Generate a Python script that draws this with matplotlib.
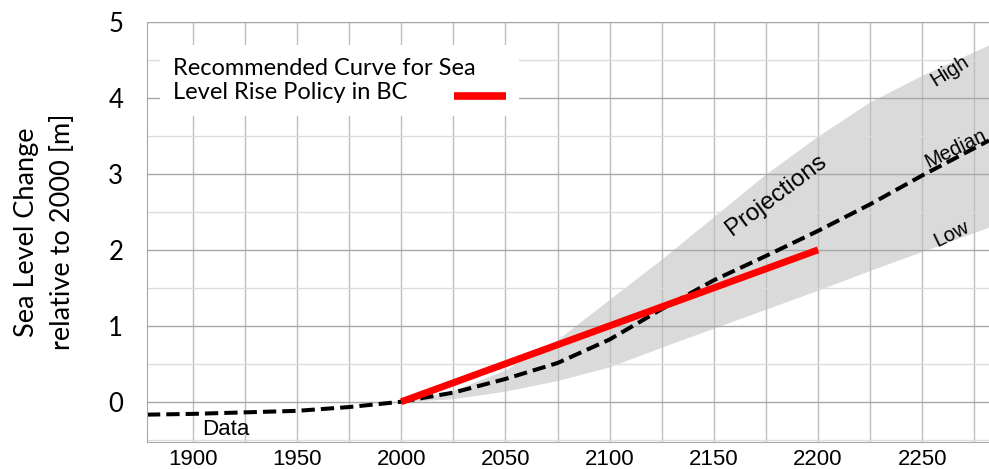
import numpy as np
import matplotlib.pyplot as plt
from matplotlib.ticker import MultipleLocator

# observed record (dashed, left of 2000)
data_years = [1878, 1900, 1925, 1950, 1975, 2000]
data_vals = [-0.17, -0.16, -0.14, -0.12, -0.07, 0.0]

# projections after 2000
proj_years = [2000, 2025, 2050, 2075, 2100, 2125, 2150, 2175, 2200, 2225, 2250, 2282]
median_vals = [0.0, 0.12, 0.30, 0.51, 0.82, 1.22, 1.60, 1.92, 2.25, 2.60, 2.98, 3.44]
high_vals = [0.0, 0.15, 0.42, 0.82, 1.35, 1.88, 2.44, 3.00, 3.50, 3.95, 4.30, 4.70]
low_vals = [0.0, 0.04, 0.14, 0.28, 0.46, 0.72, 0.97, 1.22, 1.47, 1.73, 1.98, 2.30]

# recommended policy curve
policy_years = [2000, 2200]
policy_vals = [0.0, 2.0]

x_ticks = [1900, 1950, 2000, 2050, 2100, 2150, 2200, 2250]
y_ticks = [0, 1, 2, 3, 4, 5]

ARIAL = "Liberation Sans"
CALIBRI = "Lato"


def main():
    fig = plt.figure(figsize=(9.89, 4.69), dpi=100)
    ax = fig.add_axes([0.1486, 0.0576, 0.8514, 0.8955])

    ax.set_xlim(1878, 2282)
    ax.set_ylim(-0.53, 5)

    # band and lines
    ax.fill_between(proj_years, low_vals, high_vals, color="#dadada",
                    linewidth=0, zorder=0.3)
    ax.plot(data_years, data_vals, color="black", linewidth=2.9,
            dashes=(3.3, 1.5), zorder=2)
    ax.plot(proj_years, median_vals, color="black", linewidth=2.9,
            dashes=(3.3, 1.5), zorder=2)
    ax.plot(policy_years, policy_vals, color="#ff0000", linewidth=5,
            solid_capstyle="butt", zorder=3,
            label="Recommended Curve for Sea\nLevel Rise Policy in BC")

    # grid
    ax.set_axisbelow(True)
    ax.set_xticks(x_ticks)
    ax.xaxis.set_minor_locator(MultipleLocator(25))
    ax.set_yticks(y_ticks)
    ax.yaxis.set_minor_locator(MultipleLocator(0.5))
    ax.grid(True, axis="x", which="both", color="#bdbdbd", linewidth=1.0)
    ax.grid(True, axis="y", which="major", color="#a8a8a8", linewidth=1.0)
    ax.grid(True, axis="y", which="minor", color="#dcdcdc", linewidth=1.0)

    ax.tick_params(which="both", length=0)
    ax.tick_params(axis="x", pad=5)
    ax.tick_params(axis="y", pad=17)
    for lab in ax.get_xticklabels():
        lab.set_fontfamily(ARIAL)
        lab.set_fontsize(16)
    for lab in ax.get_yticklabels():
        lab.set_fontfamily(CALIBRI)
        lab.set_fontsize(18.5)

    for side in ["left", "bottom", "top"]:
        ax.spines[side].set_color("#a8a8a8")
    ax.spines["right"].set_visible(False)

    ax.set_ylabel("Sea Level Change\nrelative to 2000 [m]", fontfamily=CALIBRI,
                  fontsize=19.5, linespacing=1.55)
    ax.yaxis.set_label_coords(-0.086, 0.50)

    # annotations
    ax.text(1916, -0.37, "Data", fontfamily=ARIAL, fontsize=16,
            ha="center", va="center", zorder=4)
    ax.text(2180, 2.72, "Projections", fontfamily=ARIAL, fontsize=17.5,
            rotation=37, rotation_mode="anchor", ha="center", va="center", zorder=4)
    ax.text(2263, 4.36, "High", fontfamily=ARIAL, fontsize=14.5,
            rotation=32, rotation_mode="anchor", ha="center", va="center", zorder=4)
    ax.text(2266, 3.34, "Median", fontfamily=ARIAL, fontsize=14.5,
            rotation=26, rotation_mode="anchor", ha="center", va="center", zorder=4)
    ax.text(2264, 2.21, "Low", fontfamily=ARIAL, fontsize=14.5,
            rotation=26, rotation_mode="anchor", ha="center", va="center", zorder=4)

    leg = ax.legend(loc="upper left", bbox_to_anchor=(0.0155, 0.945),
                    borderaxespad=0, markerfirst=False, frameon=True,
                    fancybox=False, framealpha=1, edgecolor="none",
                    prop={"family": CALIBRI, "size": 17},
                    handlelength=2.2, handletextpad=-0.92, borderpad=0.55)
    leg.get_frame().set_linewidth(0)
    leg.set_zorder(5)
    # the key sits beside the second text line
    key = leg.get_lines()[0]
    key.set_ydata(np.asarray(key.get_ydata()) - 11)
    key.set_linewidth(5.5)

    fig.savefig("out.png", dpi=100)


if __name__ == "__main__":
    main()
